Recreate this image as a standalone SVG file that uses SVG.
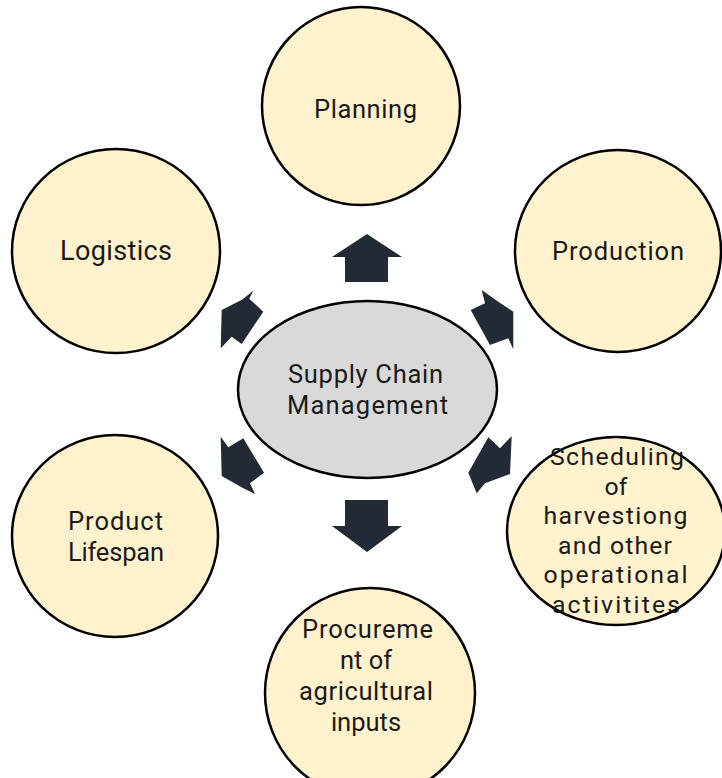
<svg xmlns="http://www.w3.org/2000/svg" width="722" height="778" viewBox="0 0 722 778">
<style>
.node{fill:#fff2cc;stroke:#000;stroke-width:2.5}
.hub{fill:#d9d9d9;stroke:#000;stroke-width:2.5}
.arrow{fill:#222a35;stroke:none}
text{font-family:Roboto,"Liberation Sans",sans-serif;font-size:25.5px;fill:#1a1a1a;text-anchor:middle}
.s{font-size:24.8px}
</style>
<rect width="722" height="778" fill="#ffffff"/>
<g id="connectors">
<polygon class="arrow" points="367,234 402,257 388,257 388,282 345,282 345,257 332,257"/>
<polygon class="arrow" points="345,500 388,500 388,526 402,526 367,552 332,526 345,526"/>
<polygon class="arrow" points="253.3,290.7 249.3,298.7 263.3,311.7 241.7,344 231.7,336.7 220.7,348.3 221.7,310 242.7,299.3"/>
<polygon class="arrow" points="481.7,290 498.3,301.7 513.3,311.7 513.3,349.3 508.3,338.3 490,345 470.7,310 485,303.3"/>
<polygon class="arrow" points="220.7,436.7 228.3,447.3 243.3,438.3 264,472.7 250,483.3 255,494 243.3,488.3 221.7,476"/>
<polygon class="arrow" points="488.3,437.3 500,448.3 511.7,436 510,474 485,483.3 476.7,493.3 468.3,472.7"/>
</g>
<g id="hub">
<ellipse class="hub" cx="367.5" cy="389.5" rx="129.5" ry="88.5"/>
<text x="365.5" y="383" textLength="155">Supply Chain</text>
<text x="367.5" y="414" textLength="161">Management</text>
</g>
<g id="planning">
<ellipse class="node" cx="361" cy="106" rx="99" ry="99"/>
<text x="365.5" y="118" textLength="103">Planning</text>
</g>
<g id="logistics">
<ellipse class="node" cx="116" cy="251" rx="104" ry="102"/>
<text x="116" y="260" style="font-size:27px" textLength="112">Logistics</text>
</g>
<g id="production">
<ellipse class="node" cx="618" cy="251" rx="103" ry="101"/>
<text x="618" y="260" textLength="132">Production</text>
</g>
<g id="product-lifespan">
<ellipse class="node" cx="115" cy="536" rx="103" ry="101"/>
<text x="115.5" y="530" textLength="95">Product</text>
<text x="116" y="561" textLength="96">Lifespan</text>
</g>
<g id="scheduling">
<ellipse class="node" cx="616" cy="531" rx="109" ry="94"/>
<text class="s" x="617" y="465" textLength="134">Scheduling</text>
<text class="s" x="616" y="494.6">of</text>
<text class="s" x="615.5" y="524.2" textLength="144">harvestiong</text>
<text class="s" x="615" y="553.8" textLength="114">and other</text>
<text class="s" x="615.5" y="583.4" textLength="144">operational</text>
<text class="s" x="616" y="613" textLength="128">activitites</text>
</g>
<g id="procurement">
<ellipse class="node" cx="370" cy="693" rx="105" ry="105"/>
<text x="367.5" y="638" textLength="131">Procureme</text>
<text x="366" y="669">nt of</text>
<text x="366" y="700" textLength="134">agricultural</text>
<text x="366" y="731">inputs</text>
</g>
</svg>
